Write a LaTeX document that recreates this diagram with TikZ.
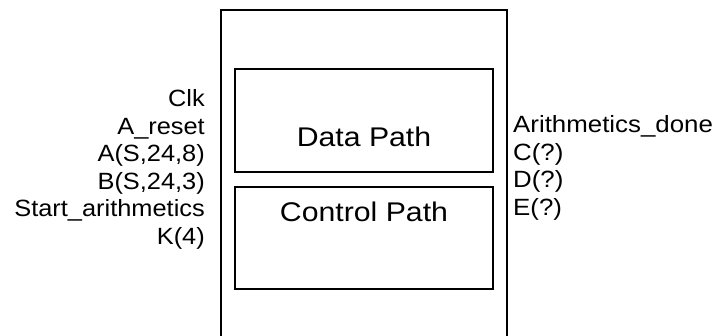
\documentclass[tikz,border=0pt]{standalone}
\usepackage{fontspec}
\setmainfont{Liberation Sans}
\begin{document}
\begin{tikzpicture}[x=1pt,y=-1pt,
  box/.style={draw,line width=1.2pt},
  sig/.style={inner sep=0pt,font=\fontsize{23.5}{27}\selectfont},
  big/.style={inner sep=0pt,font=\fontsize{27}{32}\selectfont}]
\useasboundingbox (0,0) rectangle (719,336);
\coordinate (ol) at (221,336);
\coordinate (or) at (507,336);
\draw[box] (ol) -- (221,10) -- (507,10) -- (or);
\node[box,minimum width=258pt,minimum height=103pt,inner sep=0pt] (dp) at (364,120.5) {};
\node[box,minimum width=258pt,minimum height=102pt,inner sep=0pt] (cp) at (364,238) {};
\node[big,anchor=base] (dpt) at (364,147) {\scalebox{1.12}[1]{Data Path}};
\node[big,anchor=base] (cpt) at (364,222) {\scalebox{1.12}[1]{Control Path}};
\node[sig,anchor=base east] (l1) at (205,107) {\scalebox{1.08}[1]{Clk}};
\node[sig,anchor=base east] (l2) at (205,134.5) {\scalebox{1.08}[1]{A\_reset}};
\node[sig,anchor=base east] (l3) at (205,162) {\scalebox{1.08}[1]{A(S,24,8)}};
\node[sig,anchor=base east] (l4) at (205,189.5) {\scalebox{1.08}[1]{B(S,24,3)}};
\node[sig,anchor=base east] (l5) at (205,217) {\scalebox{1.08}[1]{Start\_arithmetics}};
\node[sig,anchor=base east] (l6) at (205,244.5) {\scalebox{1.08}[1]{K(4)}};
\node[sig,anchor=base west] (r1) at (513,133) {\scalebox{1.1}[1]{Arithmetics\_done}};
\node[sig,anchor=base west] (r2) at (513,160.5) {\scalebox{1.1}[1]{C(?)}};
\node[sig,anchor=base west] (r3) at (513,188) {\scalebox{1.1}[1]{D(?)}};
\node[sig,anchor=base west] (r4) at (513,215.5) {\scalebox{1.1}[1]{E(?)}};
\end{tikzpicture}
\end{document}
